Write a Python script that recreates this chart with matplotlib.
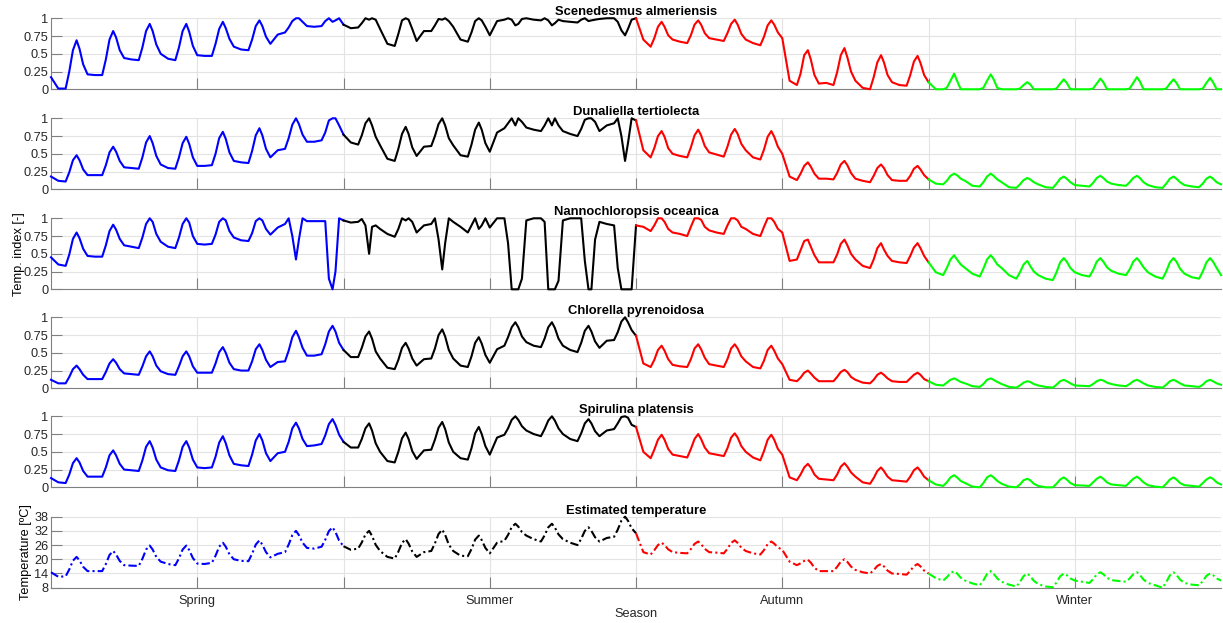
import numpy as np
import matplotlib
matplotlib.use("Agg")
import matplotlib.pyplot as plt

# time grid: 32 days, eight samples per day (fraction of day)
PHASES = [0.0, 0.2, 0.4, 0.5, 0.6, 0.7, 0.78, 0.88]
N_DAYS = 32

seasons = ["Spring", "Summer", "Autumn", "Winter"]
season_colors = ["#0000ff", "#000000", "#ff0000", "#00ff00"]

titles = ["Scenedesmus almeriensis", "Dunaliella tertiolecta", "Nannochloropsis oceanica",
          "Chlorella pyrenoidosa", "Spirulina platensis", "Estimated temperature"]

# one row = one day
scenedesmus = [
    .17, .01, .01, .25, .55, .69, .57, .35,
    .21, .20, .20, .42, .70, .82, .73, .55,
    .44, .42, .41, .59, .82, .92, .82, .63,
    .50, .43, .41, .59, .82, .92, .81, .61,
    .48, .47, .47, .64, .85, .95, .86, .71,
    .60, .56, .55, .70, .89, .97, .89, .74,
    .64, .77, .80, .87, .96, 1.0, 1.0, .95,
    .89, .88, .89, .96, 1.0, .95, .97, 1.0,
    .91, .86, .87, .93, 1.0, .98, 1.0, .98,
    .85, .64, .61, .78, .97, 1.0, .98, .85,
    .68, .82, .82, .90, .99, .98, 1.0, .96,
    .88, .70, .67, .80, .96, 1.0, .97, .88,
    .76, .96, .98, 1.0, .98, .90, .92, .99,
    1.0, .98, .97, 1.0, .97, .90, .93, .98,
    .96, .95, .94, .98, 1.0, .96, .97, .98,
    .99, 1.0, 1.0, .95, .83, .76, .85, .98,
    1.0, .70, .60, .72, .88, .95, .88, .76,
    .70, .67, .65, .76, .91, .97, .91, .79,
    .72, .70, .68, .79, .92, .98, .91, .78,
    .70, .65, .62, .74, .90, .97, .91, .80,
    .72, .12, .06, .22, .48, .55, .42, .20,
    .08, .09, .06, .24, .48, .58, .45, .25,
    .12, .02, .00, .17, .38, .48, .38, .20,
    .10, .06, .05, .20, .39, .47, .37, .20,
    .10, .00, .00, .02, .12, .22, .12, .00,
    .00, .00, .00, .02, .12, .21, .14, .02,
    .00, .00, .00, .01, .06, .10, .07, .00,
    .00, .00, .00, .01, .08, .14, .09, .00,
    .00, .00, .00, .01, .08, .15, .10, .00,
    .00, .00, .00, .01, .09, .17, .11, .00,
    .00, .00, .00, .01, .08, .14, .09, .00,
    .00, .00, .00, .01, .09, .16, .10, .00,
    .00]

dunaliella = [
    .18, .12, .11, .24, .41, .48, .41, .28,
    .20, .20, .20, .34, .52, .60, .53, .40,
    .31, .30, .29, .45, .66, .75, .65, .47,
    .35, .30, .29, .45, .65, .74, .64, .45,
    .33, .33, .34, .50, .72, .81, .71, .52,
    .40, .38, .37, .54, .76, .86, .76, .57,
    .45, .55, .57, .72, .91, 1.0, .92, .77,
    .67, .67, .69, .80, .97, 1.0, 1.0, .90,
    .77, .66, .63, .76, .93, 1.0, .90, .74,
    .62, .43, .40, .57, .78, .88, .78, .59,
    .47, .60, .61, .75, .92, 1.0, .90, .72,
    .62, .48, .46, .63, .84, .94, .84, .65,
    .53, .80, .86, .93, 1.0, .90, 1.0, .95,
    .87, .84, .82, .90, 1.0, .90, 1.0, .90,
    .82, .78, .75, .85, .98, 1.0, 1.0, .95,
    .82, .90, .93, 1.0, .75, .40, .65, 1.0,
    .97, .55, .45, .58, .75, .82, .74, .58,
    .50, .47, .45, .59, .76, .84, .76, .61,
    .52, .49, .46, .60, .77, .85, .78, .64,
    .55, .45, .42, .56, .74, .82, .74, .60,
    .50, .18, .13, .22, .33, .38, .32, .22,
    .15, .15, .14, .23, .35, .40, .34, .23,
    .15, .12, .10, .19, .30, .35, .30, .20,
    .13, .12, .12, .19, .29, .33, .28, .20,
    .14, .08, .07, .12, .19, .22, .20, .15,
    .12, .05, .04, .10, .18, .22, .19, .14,
    .10, .03, .02, .07, .13, .16, .14, .10,
    .07, .03, .02, .08, .15, .18, .15, .10,
    .06, .05, .04, .09, .16, .19, .16, .11,
    .08, .06, .05, .10, .16, .19, .16, .10,
    .06, .03, .02, .08, .15, .18, .15, .10,
    .06, .04, .03, .08, .15, .18, .15, .10,
    .07]

nannochloropsis = [
    .45, .35, .33, .49, .71, .80, .72, .57,
    .47, .46, .46, .62, .82, .91, .84, .71,
    .62, .60, .58, .73, .92, 1.0, .95, .78,
    .67, .60, .58, .73, .92, 1.0, .94, .75,
    .64, .63, .64, .77, .95, 1.0, .97, .82,
    .73, .69, .68, .79, .96, 1.0, .97, .85,
    .77, .87, .92, 1.0, .75, .42, .70, 1.0,
    .96, .96, .96, .96, .15, .00, .25, 1.0,
    .97, .94, .95, .99, .90, .50, .88, .90,
    .85, .78, .74, .85, 1.0, .97, 1.0, .95,
    .80, .90, .92, 1.0, .70, .28, .65, 1.0,
    .95, .88, .80, .90, 1.0, .85, .90, 1.0,
    .87, 1.0, 1.0, .65, .00, .00, .00, .15,
    .97, 1.0, 1.0, .95, .00, .00, .00, .12,
    .97, 1.0, 1.0, 1.0, .40, .00, .00, .70,
    .95, .92, .90, .30, .00, .00, .00, .00,
    .90, .88, .82, .90, 1.0, 1.0, .95, .85,
    .80, .78, .75, .88, 1.0, 1.0, .98, .88,
    .83, .80, .78, .90, 1.0, 1.0, .97, .88,
    .85, .78, .75, .88, 1.0, 1.0, .95, .85,
    .80, .40, .42, .55, .68, .70, .60, .48,
    .38, .38, .38, .49, .64, .70, .62, .50,
    .42, .33, .30, .42, .58, .65, .56, .47,
    .40, .38, .37, .47, .59, .65, .58, .47,
    .38, .24, .20, .30, .42, .48, .42, .35,
    .30, .22, .18, .29, .42, .48, .43, .35,
    .30, .20, .15, .24, .35, .40, .33, .25,
    .20, .15, .13, .24, .38, .44, .39, .30,
    .24, .20, .18, .27, .39, .44, .39, .31,
    .26, .22, .20, .28, .39, .44, .39, .31,
    .24, .18, .15, .25, .38, .44, .39, .29,
    .22, .17, .15, .25, .38, .44, .39, .30,
    .20]

chlorella = [
    .12, .07, .07, .16, .27, .32, .27, .19,
    .13, .13, .13, .23, .35, .41, .36, .27,
    .21, .20, .19, .31, .45, .52, .45, .32,
    .24, .20, .19, .31, .45, .52, .45, .31,
    .22, .22, .22, .35, .51, .58, .50, .36,
    .27, .25, .25, .38, .55, .62, .54, .40,
    .30, .37, .38, .53, .72, .81, .72, .57,
    .46, .46, .48, .62, .80, .88, .80, .64,
    .54, .44, .44, .57, .73, .80, .70, .52,
    .42, .29, .27, .40, .57, .64, .56, .42,
    .32, .41, .42, .56, .75, .83, .73, .54,
    .42, .32, .30, .45, .64, .72, .63, .47,
    .36, .55, .60, .72, .86, .93, .86, .73,
    .65, .60, .58, .70, .86, .93, .85, .70,
    .60, .54, .51, .64, .81, .88, .80, .66,
    .57, .67, .68, .79, .94, 1.0, .93, .82,
    .74, .35, .30, .40, .54, .60, .53, .41,
    .33, .31, .30, .41, .56, .62, .55, .43,
    .34, .32, .30, .41, .56, .62, .56, .45,
    .38, .30, .28, .39, .54, .60, .53, .42,
    .34, .12, .10, .15, .22, .25, .21, .15,
    .10, .10, .10, .16, .23, .26, .23, .16,
    .12, .08, .07, .12, .19, .22, .19, .14,
    .10, .09, .09, .14, .19, .22, .19, .13,
    .10, .05, .04, .08, .12, .14, .12, .09,
    .07, .03, .02, .06, .12, .14, .12, .09,
    .06, .02, .01, .04, .08, .10, .09, .06,
    .04, .02, .01, .05, .10, .12, .10, .07,
    .04, .035, .03, .06, .10, .12, .11, .08,
    .06, .04, .03, .06, .10, .12, .10, .07,
    .04, .02, .01, .05, .10, .12, .10, .07,
    .04, .03, .02, .05, .10, .12, .10, .07,
    .05]

spirulina = [
    .13, .07, .06, .18, .34, .41, .35, .23,
    .15, .15, .15, .28, .45, .52, .45, .33,
    .25, .24, .23, .38, .57, .65, .56, .39,
    .28, .24, .23, .38, .57, .65, .56, .39,
    .28, .27, .28, .43, .63, .72, .62, .45,
    .33, .31, .30, .46, .66, .75, .66, .48,
    .37, .48, .50, .64, .83, .91, .83, .68,
    .58, .59, .61, .73, .89, .96, .88, .74,
    .64, .56, .56, .68, .83, .90, .80, .62,
    .50, .37, .35, .50, .69, .77, .68, .51,
    .40, .52, .53, .67, .84, .92, .82, .63,
    .50, .41, .39, .55, .76, .85, .75, .58,
    .46, .70, .74, .83, .95, 1.0, .95, .86,
    .80, .75, .72, .82, .94, 1.0, .94, .83,
    .75, .68, .65, .76, .90, .96, .90, .79,
    .72, .80, .82, .90, .99, 1.0, .98, .88,
    .85, .50, .41, .53, .67, .74, .67, .54,
    .46, .44, .42, .54, .68, .75, .68, .56,
    .48, .46, .44, .55, .70, .76, .70, .58,
    .50, .42, .38, .51, .67, .74, .67, .54,
    .46, .14, .10, .18, .28, .33, .28, .18,
    .12, .11, .10, .18, .29, .34, .29, .21,
    .15, .07, .05, .13, .23, .28, .23, .15,
    .10, .09, .08, .15, .24, .28, .23, .15,
    .10, .04, .02, .07, .14, .17, .14, .09,
    .06, .01, .00, .06, .14, .17, .14, .09,
    .05, .01, .00, .04, .10, .12, .10, .05,
    .02, .00, .00, .05, .11, .14, .11, .06,
    .03, .025, .02, .07, .12, .15, .12, .07,
    .04, .03, .02, .07, .12, .15, .12, .07,
    .03, .01, .00, .05, .11, .14, .11, .06,
    .03, .02, .01, .06, .11, .14, .12, .07,
    .04]

temperature = [
    14.5, 12.6, 12.8, 15.7, 19.4, 21.0, 19.5, 16.8,
    15.0, 15.0, 15.0, 18.0, 21.8, 23.5, 22.0, 19.3,
    17.5, 17.3, 17.2, 20.2, 24.1, 25.8, 24.1, 21.0,
    19.0, 18.0, 17.5, 20.4, 24.1, 25.8, 23.9, 20.5,
    18.2, 18.0, 18.5, 21.5, 25.3, 27.0, 25.3, 22.1,
    20.0, 19.3, 19.2, 22.3, 26.2, 28.0, 26.2, 23.0,
    20.8, 22.3, 23.0, 26.2, 30.2, 32.0, 30.2, 27.0,
    24.8, 24.5, 25.3, 28.2, 31.9, 33.5, 31.5, 27.9,
    25.5, 24.0, 24.5, 27.1, 30.5, 32.0, 29.9, 26.1,
    23.5, 21.0, 20.3, 23.2, 26.9, 28.5, 26.6, 23.3,
    21.0, 23.0, 23.5, 26.7, 30.7, 32.5, 30.3, 26.2,
    23.5, 21.5, 21.3, 24.3, 28.3, 30.0, 28.1, 24.8,
    22.5, 27.0, 27.8, 30.3, 33.6, 35.0, 33.8, 31.5,
    30.0, 28.5, 27.5, 30.1, 33.5, 35.0, 33.4, 30.5,
    28.5, 27.0, 26.0, 28.6, 32.0, 33.5, 32.0, 29.3,
    27.5, 29.0, 29.5, 32.5, 36.3, 38.0, 36.3, 33.1,
    31.0, 23.0, 22.0, 23.8, 26.0, 27.0, 26.0, 24.2,
    23.0, 22.7, 22.5, 24.3, 26.5, 27.5, 26.4, 24.4,
    23.0, 22.8, 22.5, 24.4, 26.9, 28.0, 26.9, 24.9,
    23.5, 22.5, 22.0, 23.9, 26.4, 27.5, 26.6, 25.0,
    24.0, 19.0, 17.5, 18.3, 19.3, 19.8, 18.6, 16.4,
    15.0, 15.0, 15.0, 16.8, 19.0, 20.0, 18.9, 16.9,
    15.5, 14.5, 14.0, 15.4, 17.2, 18.0, 17.0, 15.2,
    14.0, 13.8, 13.5, 15.1, 17.1, 18.0, 17.0, 15.2,
    14.0, 12.0, 11.0, 12.4, 14.2, 15.0, 14.0, 12.2,
    11.0, 9.8, 9.0, 11.1, 13.8, 15.0, 13.9, 11.9,
    10.5, 9.3, 8.5, 10.4, 12.9, 14.0, 12.9, 10.9,
    9.5, 8.5, 8.2, 10.2, 12.8, 14.0, 13.3, 11.9,
    11.0, 10.5, 10.0, 11.6, 13.6, 14.5, 13.7, 12.2,
    11.2, 10.8, 10.5, 11.9, 13.7, 14.5, 13.4, 11.4,
    10.0, 9.0, 8.0, 10.3, 13.2, 14.5, 13.4, 11.4,
    10.0, 9.3, 9.0, 10.8, 13.0, 14.0, 13.3, 11.9,
    11.0]

series = [scenedesmus, dunaliella, nannochloropsis, chlorella, spirulina, temperature]

t = np.array([d + p for d in range(N_DAYS) for p in PHASES] + [N_DAYS])

plt.rcParams['font.family'] = ['Liberation Sans', 'DejaVu Sans']

fig = plt.figure(figsize=(12.23, 6.23), dpi=100)
left, width, height = 0.0417, 0.9567, 0.114
bottoms = [0.8567, 0.6961, 0.5356, 0.3767, 0.2178, 0.0567]

axis_grey = "#808080"
for i, (vals, title) in enumerate(zip(series, titles)):
    ax = fig.add_axes([left, bottoms[i], width, height])
    v = np.array(vals)
    is_temp = i == 5
    for s in range(4):
        m = (t >= 8 * s) & (t <= 8 * (s + 1))
        ls = (0, (4, 1.5, 1, 1.5)) if is_temp else "-"
        ax.plot(t[m], v[m], color=season_colors[s], lw=1.5, ls=ls, clip_on=False,
                zorder=3, solid_joinstyle="round")
    ax.set_xlim(0, N_DAYS)
    ax.set_xticks(range(4, N_DAYS, 4))
    if is_temp:
        ax.set_ylim(8, 38)
        ax.set_yticks(range(8, 39, 6))
        ax.set_xticklabels(["Spring", "", "Summer", "", "Autumn", "", "Winter"])
        ax.set_ylabel("Temperature [ºC]", fontsize=9.2, labelpad=1.5)
        ax.set_xlabel("Season", fontsize=9.2, labelpad=1, color="#262626")
    else:
        ax.set_ylim(0, 1)
        ax.set_yticks([0, 0.25, 0.5, 0.75, 1])
        ax.set_yticklabels(["0", "0.25", "0.5", "0.75", "1"])
        ax.set_xticklabels([])
        if i == 2:
            ax.set_ylabel("Temp. index [-]", fontsize=9.2, labelpad=-1.5)
    ax.set_title(title, fontweight="bold", fontsize=9.4, pad=2)
    ax.grid(True, color="#e3e3e3", lw=0.8)
    ax.set_axisbelow(True)
    for sp in ["top", "right"]:
        ax.spines[sp].set_visible(False)
    for sp in ["left", "bottom"]:
        ax.spines[sp].set_color(axis_grey)
        ax.spines[sp].set_linewidth(0.8)
    ax.tick_params(direction="in", length=8, width=0.8, color=axis_grey,
                   labelcolor="#262626", labelsize=9.2, pad=2)
    ax.tick_params(axis="x", pad=5)

fig.savefig("out.png", dpi=100)
